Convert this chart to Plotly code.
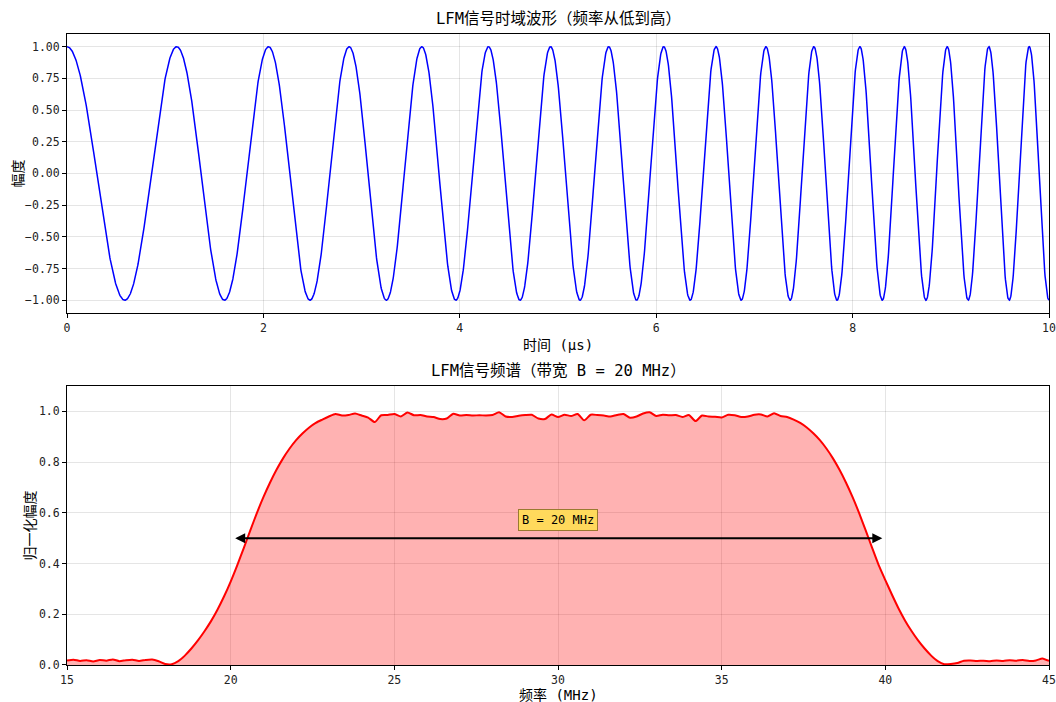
import numpy as np
import plotly.graph_objects as go

# ---------------- data ----------------
# LFM chirp: start frequency (MHz) and chirp rate (MHz/us)
chirp_f0_mhz = 0.8
chirp_rate_mhz_per_us = 0.17
time_span_us = [0.0, 10.0]

# Spectrum samples, 0.2 MHz apart, from 15.0 MHz to 45.0 MHz
spec_start_mhz = 15.0
spec_step_mhz = 0.2
noise_low = [0.018, 0.021, 0.016, 0.019, 0.014, 0.020, 0.017, 0.022, 0.015, 0.019,
             0.021, 0.016, 0.020, 0.022, 0.015]                       # 15.0 - 17.8
rise_edge = [0.004, 0.003, 0.015, 0.037, 0.065, 0.097, 0.133, 0.173, 0.219, 0.271,
             0.329, 0.393, 0.461, 0.531, 0.599, 0.662, 0.719, 0.770, 0.815, 0.854,
             0.887, 0.914, 0.937, 0.955, 0.968]                       # 18.0 - 22.8
flat_top = [0.980, 0.990, 0.984, 0.986, 0.992, 0.984, 0.976, 0.958, 0.985, 0.986,
            0.990, 0.980, 0.996, 0.985, 0.986, 0.980, 0.978, 0.970, 0.972, 0.991,
            0.984, 0.986, 0.984, 0.985, 0.984, 0.986, 0.997, 0.980, 0.978, 0.983,
            0.986, 0.987, 0.972, 0.970, 0.988, 0.978, 0.987, 0.982, 0.990, 0.965,
            0.987, 0.986, 0.984, 0.980, 0.986, 0.990, 0.975, 0.980, 0.992, 0.997,
            0.982, 0.987, 0.985, 0.986, 0.978, 0.986, 0.962, 0.984, 0.980, 0.979,
            0.976, 0.987, 0.985, 0.978, 0.980, 0.987, 0.988, 0.980, 0.993, 0.982,
            0.978]                                                    # 23.0 - 37.0
fall_edge = [0.968, 0.955, 0.937, 0.914, 0.887, 0.854, 0.815, 0.770, 0.719, 0.662,
             0.599, 0.531, 0.461, 0.393, 0.335, 0.278, 0.224, 0.176, 0.134, 0.097,
             0.065, 0.037, 0.015, 0.003, 0.004]                       # 37.2 - 42.0
noise_high = [0.008, 0.017, 0.018, 0.016, 0.017, 0.015, 0.018, 0.016, 0.019, 0.017,
              0.020, 0.016, 0.018, 0.026, 0.016]                      # 42.2 - 45.0

bandwidth_edges_mhz = [20, 40]
bandwidth_marker_level = 0.5
bandwidth_label = "B = 20 MHz"

top_title = "LFM信号时域波形（频率从低到高）"
bottom_title = "LFM信号频谱（带宽 B = 20 MHz）"

# ---------------- build series ----------------
t = np.linspace(time_span_us[0], time_span_us[1], 3000)
wave = np.cos(2 * np.pi * (chirp_f0_mhz * t + 0.5 * chirp_rate_mhz_per_us * t ** 2))

spec = noise_low + rise_edge + flat_top + fall_edge + noise_high
freq = [round(spec_start_mhz + spec_step_mhz * i, 2) for i in range(len(spec))]

FONT = "DejaVu Sans Mono, Noto Sans CJK SC, sans-serif"

fig = go.Figure()
fig.add_trace(go.Scatter(x=t, y=wave, mode="lines",
                         line=dict(color="#0000ff", width=1.5),
                         xaxis="x", yaxis="y", showlegend=False))
fig.add_trace(go.Scatter(x=freq, y=spec, mode="lines",
                         line=dict(color="#ff0000", width=2, shape="spline", smoothing=0.6),
                         fill="tozeroy", fillcolor="rgba(255,0,0,0.3)",
                         xaxis="x2", yaxis="y2", showlegend=False))

axis_common = dict(showline=True, mirror=True, linecolor="black", linewidth=1,
                   ticks="outside", ticklen=4, tickcolor="black", automargin=False,
                   showgrid=True, gridcolor="rgba(0,0,0,0.1)", gridwidth=1,
                   zeroline=False, tickfont=dict(family=FONT, size=11.5, color="#222"))

top_dom = [0.558, 1.0]
bot_dom = [0.0, 0.442]

fig.update_layout(
    width=1056, height=702,
    margin=dict(l=67, r=7, t=34, b=37),
    paper_bgcolor="white", plot_bgcolor="white",
    font=dict(family=FONT, color="black"),
    xaxis=dict(domain=[0, 1], anchor="y", range=[0, 10], tickvals=[0, 2, 4, 6, 8, 10], **axis_common),
    yaxis=dict(domain=top_dom, anchor="x", range=[-1.1, 1.1],
               tickvals=[-1, -0.75, -0.5, -0.25, 0, 0.25, 0.5, 0.75, 1.0], tickformat=".2f", **axis_common),
    xaxis2=dict(domain=[0, 1], anchor="y2", range=[15, 45], tickvals=[15, 20, 25, 30, 35, 40, 45], **axis_common),
    yaxis2=dict(domain=bot_dom, anchor="x2", range=[0, 1.1],
                tickvals=[0, 0.2, 0.4, 0.6, 0.8, 1.0], tickformat=".1f", **axis_common),
)

ann = []
# subplot titles
ann.append(dict(text=top_title, x=0.5, y=top_dom[1], xref="paper", yref="paper",
                xanchor="center", yanchor="bottom", yshift=4, showarrow=False,
                font=dict(family=FONT, size=15.5, color="black")))
ann.append(dict(text=bottom_title, x=0.5, y=bot_dom[1], xref="paper", yref="paper",
                xanchor="center", yanchor="bottom", yshift=4, showarrow=False,
                font=dict(family=FONT, size=15.5, color="black")))
# axis titles
ann.append(dict(text="时间 (μs)", x=0.5, y=top_dom[0], xref="paper", yref="paper",
                xanchor="center", yanchor="middle", yshift=-32, showarrow=False,
                font=dict(family=FONT, size=14, color="black")))
ann.append(dict(text="频率 (MHz)", x=0.5, y=bot_dom[0], xref="paper", yref="paper",
                xanchor="center", yanchor="middle", yshift=-30, showarrow=False,
                font=dict(family=FONT, size=14, color="black")))
ann.append(dict(text="幅度", x=0, y=(top_dom[0] + top_dom[1]) / 2, xref="paper", yref="paper",
                xanchor="center", yanchor="middle", xshift=-49, textangle=-90, showarrow=False,
                font=dict(family=FONT, size=14, color="black")))
ann.append(dict(text="归一化幅度", x=0, y=(bot_dom[0] + bot_dom[1]) / 2, xref="paper", yref="paper",
                xanchor="center", yanchor="middle", xshift=-37, textangle=-90, showarrow=False,
                font=dict(family=FONT, size=14, color="black")))
# bandwidth arrow
ann.append(dict(x=bandwidth_edges_mhz[1], y=bandwidth_marker_level,
                ax=bandwidth_edges_mhz[0], ay=bandwidth_marker_level,
                xref="x2", yref="y2", axref="x2", ayref="y2", text="",
                showarrow=True, arrowhead=2, arrowside="end+start", arrowsize=1,
                arrowwidth=2, arrowcolor="black", standoff=3, startstandoff=3))
ann.append(dict(text=bandwidth_label, x=sum(bandwidth_edges_mhz) / 2, y=bandwidth_marker_level,
                xref="x2", yref="y2", xanchor="center", yanchor="bottom", yshift=7,
                showarrow=False, bgcolor="#FFD95C", bordercolor="#9a7a30", borderwidth=1,
                borderpad=3, font=dict(family=FONT, size=12, color="black")))
fig.update_layout(annotations=ann)

fig.write_html("out.html")
